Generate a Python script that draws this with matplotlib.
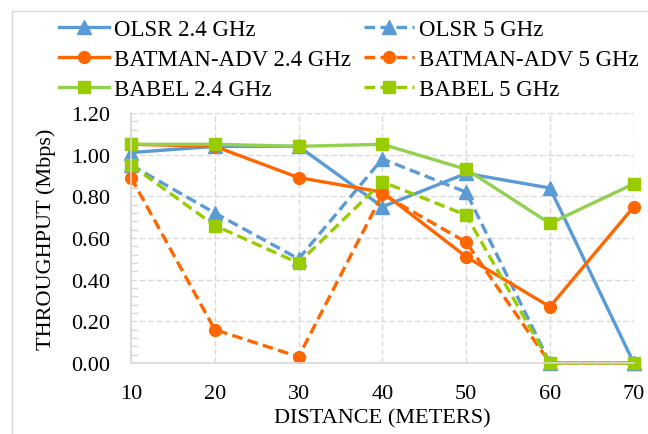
import matplotlib.pyplot as plt
from matplotlib.patches import Rectangle
from matplotlib.ticker import MultipleLocator

plt.rcParams['font.family'] = ['Liberation Serif', 'DejaVu Serif']

distance = [10, 20, 30, 40, 50, 60, 70]

olsr_24 = [1.01, 1.04, 1.04, 0.75, 0.91, 0.84, 0.00]
olsr_5 = [0.95, 0.72, 0.50, 0.98, 0.82, 0.00, 0.00]
batman_24 = [1.05, 1.04, 0.89, 0.82, 0.51, 0.27, 0.75]
batman_5 = [0.89, 0.16, 0.03, 0.81, 0.58, 0.00, 0.00]
babel_24 = [1.05, 1.05, 1.04, 1.05, 0.93, 0.67, 0.86]
babel_5 = [0.95, 0.66, 0.48, 0.87, 0.71, 0.00, 0.00]

BLUE = '#5B9BD5'
ORANGE = '#FF6600'
GREEN = '#92D050'
LIME = '#99CC00'
DASH = (0, (3.2, 1.6))

fig = plt.figure(figsize=(6.48, 4.35), dpi=100)
ax = fig.add_axes([0.2022, 0.1632, 0.7758, 0.5747])

series = [
    (olsr_24, 'OLSR 2.4 GHz', BLUE, '-', '^', 9.5),
    (olsr_5, 'OLSR 5 GHz', BLUE, DASH, '^', 9.5),
    (batman_24, 'BATMAN-ADV 2.4 GHz', ORANGE, '-', 'o', 8.5),
    (batman_5, 'BATMAN-ADV 5 GHz', ORANGE, DASH, 'o', 8.5),
    (babel_24, 'BABEL 2.4 GHz', GREEN, '-', 's', 8.5),
    (babel_5, 'BABEL 5 GHz', LIME, DASH, 's', 8.5),
]

handles = {}
for vals, label, color, ls, marker, ms in series:
    mfc = LIME if marker == 's' else color
    line, = ax.plot(distance, vals, color=color, linestyle=ls, linewidth=2.4,
                    marker=marker, markersize=ms, markerfacecolor=mfc,
                    markeredgecolor=mfc, clip_on=False, label=label)
    handles[label] = line

ax.set_xlim(10, 70)
ax.set_ylim(0, 1.2)
ax.set_xticks(distance)
ax.yaxis.set_major_locator(MultipleLocator(0.2))
ax.yaxis.set_minor_locator(MultipleLocator(0.04))
ax.yaxis.set_major_formatter(plt.FuncFormatter(lambda v, p: f'{v:.2f}'))

ax.grid(True, which='major', color='#D9D9D9', linestyle=(0, (4, 2)), linewidth=1.0)
ax.set_axisbelow(True)
for side in ['top', 'right']:
    ax.spines[side].set_visible(False)
for side in ['left', 'bottom']:
    ax.spines[side].set_color('#D9D9D9')
    ax.spines[side].set_linewidth(1.2)

ax.tick_params(axis='both', which='major', length=0, labelsize=16)
ax.tick_params(axis='y', which='major', pad=15)
ax.tick_params(axis='x', which='major', pad=15)
ax.tick_params(axis='y', which='minor', direction='in', length=5, color='#D9D9D9', width=1.0)

ax.set_xlabel('DISTANCE (METERS)', fontsize=16, labelpad=4)
ax.set_ylabel('THROUGHPUT (Mbps)', fontsize=16, labelpad=11)

order = ['OLSR 2.4 GHz', 'BATMAN-ADV 2.4 GHz', 'BABEL 2.4 GHz',
         'OLSR 5 GHz', 'BATMAN-ADV 5 GHz', 'BABEL 5 GHz']
fig.legend([handles[k] for k in order], order, ncol=2, frameon=False,
           loc='upper left', bbox_to_anchor=(59 / 648, 1 - 20 / 435), fontsize=16.5,
           handlelength=2.2, handletextpad=0.2, columnspacing=0.55,
           labelspacing=0.4, borderaxespad=0.0, borderpad=0.0)

# chart-area outline
fig.patches.append(Rectangle((12 / 648, -0.05), 1.0, 1 - 12 / 435 + 0.05,
                             transform=fig.transFigure, fill=False,
                             edgecolor='#D9D9D9', linewidth=1.0))

fig.savefig('out.png', dpi=100)
